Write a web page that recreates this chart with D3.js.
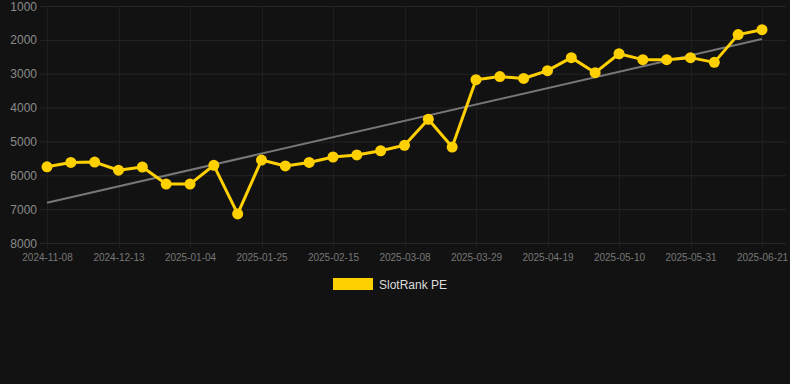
<!DOCTYPE html>
<html><head><meta charset="utf-8">
<script src="https://cdn.jsdelivr.net/npm/d3@7"></script>
<style>
html,body{margin:0;padding:0;background:#121212;}
svg{display:block;}
</style></head>
<body>
<svg id="c" width="790" height="384"></svg>
<script>
const dates = ["2024-11-08","2024-11-22","2024-11-29","2024-12-13","2024-12-20","2024-12-28","2025-01-04","2025-01-11","2025-01-18","2025-01-25","2025-02-01","2025-02-08","2025-02-15","2025-02-22","2025-03-01","2025-03-08","2025-03-15","2025-03-22","2025-03-29","2025-04-05","2025-04-12","2025-04-19","2025-04-26","2025-05-03","2025-05-10","2025-05-17","2025-05-24","2025-05-31","2025-06-07","2025-06-14","2025-06-21"];
const rankValues = [5750,5620,5610,5850,5755,6260,6260,5705,7140,5550,5725,5620,5460,5400,5275,5115,4345,5165,3175,3085,3140,2910,2525,2970,2410,2585,2585,2525,2665,1845,1700];
const trendValues = [6810,1975];
const yTicks = [1000,2000,3000,4000,5000,6000,7000,8000];
const seriesName = "SlotRank PE";

const svg = d3.select("#c");
const W = 790, H = 384;
svg.append("rect").attr("width",W).attr("height",H).attr("fill","#121212");

const x = d3.scalePoint().domain(dates).range([47,762]);
const y = d3.scaleLinear().domain([1000,8000]).range([6,243]);

// horizontal grid
svg.append("g").selectAll("line").data(yTicks).join("line")
  .attr("x1",40).attr("x2",786)
  .attr("y1",d=>y(d)+0.5).attr("y2",d=>y(d)+0.5)
  .attr("stroke","#262626").attr("stroke-width",1);
// vertical grid at labeled points
const shown = dates.filter((d,i)=>i%3===0);
svg.append("g").selectAll("line").data(shown).join("line")
  .attr("x1",d=>Math.round(x(d))+0.5).attr("x2",d=>Math.round(x(d))+0.5)
  .attr("y1",6).attr("y2",248)
  .attr("stroke","#1f1f1f").attr("stroke-width",1);

// y axis
const yAxis = d3.axisLeft(y).tickValues(yTicks).tickFormat(d3.format("d")).tickSize(0).tickPadding(0);
const ya = svg.append("g").attr("transform","translate(37,0)").call(yAxis);
ya.select(".domain").remove();
ya.selectAll("text").attr("fill","#8a8a8a").attr("font-family","Liberation Sans, Arial, sans-serif").attr("font-size","12px").attr("dy","0.34em");

// x axis
const xAxis = d3.axisBottom(x).tickValues(shown).tickSize(0).tickPadding(0);
const xa = svg.append("g").attr("transform","translate(0,254)").call(xAxis);
xa.select(".domain").remove();
xa.selectAll("text").attr("fill","#777").attr("font-family","Liberation Sans, Arial, sans-serif").attr("font-size","10px").attr("dy","0.34em").attr("y",4);

// trend line
svg.append("line")
  .attr("x1",x(dates[0])).attr("y1",y(trendValues[0]))
  .attr("x2",x(dates[dates.length-1])).attr("y2",y(trendValues[1]))
  .attr("stroke","#777").attr("stroke-width",2);

// series line
const line = d3.line().x((d,i)=>x(dates[i])).y(d=>y(d));
svg.append("path").datum(rankValues).attr("d",line)
  .attr("fill","none").attr("stroke","#ffd000").attr("stroke-width",3).attr("stroke-linejoin","round");
svg.append("g").selectAll("circle").data(rankValues).join("circle")
  .attr("cx",(d,i)=>x(dates[i])).attr("cy",d=>y(d)).attr("r",5.5)
  .attr("fill","#ffd000");

// legend
svg.append("rect").attr("x",333).attr("y",278).attr("width",40).attr("height",12).attr("fill","#ffd000");
svg.append("text").attr("x",379).attr("y",284.5).attr("dy","0.35em")
  .attr("fill","#ddd").attr("font-family","Liberation Sans, Arial, sans-serif").attr("font-size","12px")
  .text(seriesName);
</script>
</body></html>
